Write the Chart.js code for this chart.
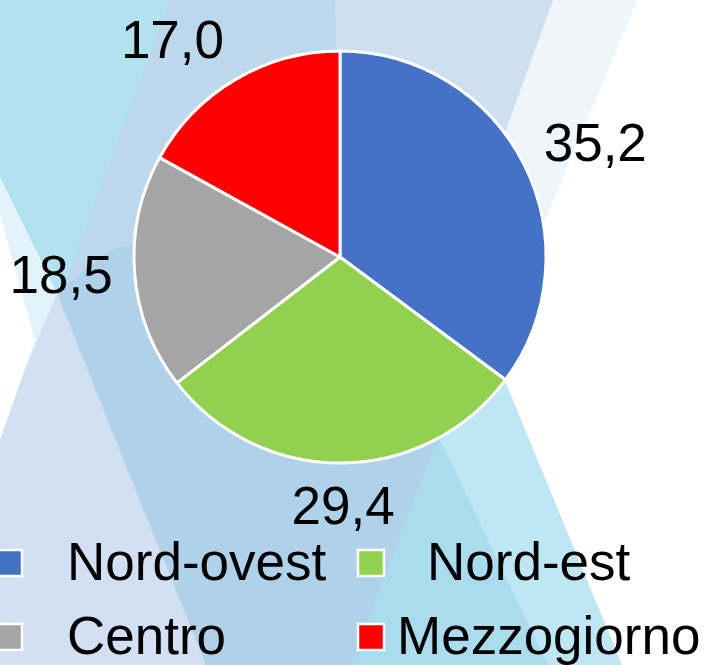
<!DOCTYPE html>
<html>
<head>
<meta charset="utf-8">
<script src="https://cdn.jsdelivr.net/npm/chart.js@4/dist/chart.umd.min.js"></script>
<style>
html,body{margin:0;padding:0;background:#fff;}
#wrap{width:705px;height:665px;position:relative;}
</style>
</head>
<body>
<div id="wrap"><canvas id="c" width="705" height="665"></canvas></div>
<script>
const categories = ['Nord-ovest', 'Nord-est', 'Centro', 'Mezzogiorno'];
const values = [35.2, 29.4, 18.5, 17.0];
const valueLabels = ['35,2', '29,4', '18,5', '17,0'];
const colors = ['#4472C4', '#92D050', '#A5A5A5', '#FF0000'];

const FONT = "'Liberation Sans', Arial, sans-serif";

// decorative background (translucent stripes)
const bgPlugin = {
  id: 'bg',
  beforeDraw(chart) {
    const ctx = chart.ctx;
    const polys = [
      ['#bdd7ed', [[0,0],[705,0],[705,665],[0,665]]],
      ['#b2e2ef', [[0,0],[170,0],[0,460]]],
      ['#cfdff0', [[335,0],[553,0],[500,150],[340,150]]],
      ['#eef6fc', [[553,0],[637,0],[477,380],[416,380]]],
      ['#d3dff2', [[0,300],[57,293],[206,665],[0,665]]],
      ['#afd2ea', [[57,293],[110,250],[300,200],[437,440],[351,665],[206,665]]],
      ['#aadcee', [[437,440],[491,347],[622,665],[351,665]]],
      ['#bfe7f3', [[440,440],[491,347],[622,665],[548,665]]],
      ['#ffffff', [[637,0],[705,0],[705,665],[622,665],[491,347]]],
      ['#e2f3f9', [[0,177],[57,293],[0,430]]],
      ['#ffffff', [[0,215],[35,340],[0,440]]]
    ];
    ctx.save();
    for (const [col, pts] of polys) {
      ctx.fillStyle = col;
      ctx.beginPath();
      pts.forEach((p, i) => i ? ctx.lineTo(p[0], p[1]) : ctx.moveTo(p[0], p[1]));
      ctx.closePath();
      ctx.fill();
    }
    ctx.restore();
  }
};

// outside-end value labels
const labelPlugin = {
  id: 'valLabels',
  afterDatasetsDraw(chart) {
    const ctx = chart.ctx;
    const meta = chart.getDatasetMeta(0);
    ctx.save();
    ctx.font = '53px ' + FONT;
    ctx.fillStyle = '#000';
    ctx.textAlign = 'center';
    ctx.textBaseline = 'middle';
    meta.data.forEach((arc, i) => {
      const a = (arc.startAngle + arc.endAngle) / 2;
      const r = arc.outerRadius + 22;
      const px = arc.x + Math.cos(a) * r;
      const py = arc.y + Math.sin(a) * r;
      const txt = valueLabels[i];
      const w = ctx.measureText(txt).width;
      const c = Math.cos(a);
      const fx = Math.sign(c) * Math.min(1, Math.abs(c) * 2);
      const cx = px + fx * w / 2;
      const cy = py + Math.sin(a) * 22;
      ctx.fillText(txt, cx, cy + 2);
    });
    ctx.restore();
  }
};

// two-column legend
const legendPlugin = {
  id: 'gridLegend',
  afterDraw(chart, args, opts) {
    const ctx = chart.ctx;
    ctx.save();
    ctx.font = '53px ' + FONT;
    ctx.textBaseline = 'middle';
    ctx.textAlign = 'left';
    chart.data.labels.forEach((lab, i) => {
      const bx = opts.boxX[i % 2];
      const by = opts.rowY[Math.floor(i / 2)];
      const s = opts.box;
      ctx.fillStyle = chart.data.datasets[0].backgroundColor[i];
      ctx.fillRect(bx, by - s / 2, s, s);
      ctx.strokeStyle = '#fff';
      ctx.lineWidth = 2.5;
      ctx.strokeRect(bx, by - s / 2, s, s);
      ctx.fillStyle = '#000';
      ctx.fillText(lab, opts.textX[i], by + 2);
    });
    ctx.restore();
  }
};

new Chart(document.getElementById('c'), {
  type: 'pie',
  data: {
    labels: categories,
    datasets: [{
      data: values,
      backgroundColor: colors,
      borderColor: '#ffffff',
      borderWidth: 3,
      hoverOffset: 0,
      radius: 206
    }]
  },
  options: {
    responsive: false,
    animation: false,
    events: [],
    layout: { padding: { left: 0, right: 25, top: 0, bottom: 151 } },
    plugins: {
      legend: { display: false },
      tooltip: { enabled: false },
      gridLegend: {
        boxX: [-4, 358],
        rowY: [563, 637],
        box: 26,
        textX: [67, 427, 67, 397]
      }
    }
  },
  plugins: [bgPlugin, labelPlugin, legendPlugin]
});
</script>
</body>
</html>
